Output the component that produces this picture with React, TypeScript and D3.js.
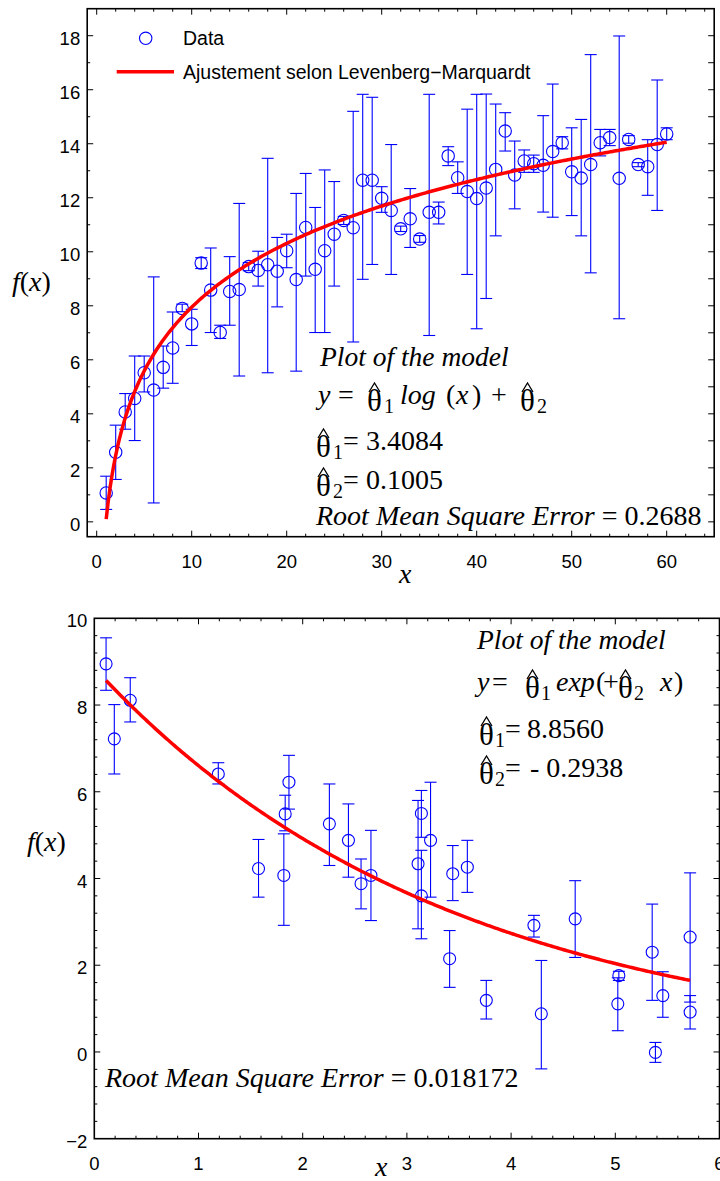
import React from 'react';
import * as d3 from 'd3';

// ---------- Top chart data (logarithmic model) ----------
const topX = [1, 2, 3, 4, 5, 6, 7, 8, 9, 10, 11, 12, 13, 14, 15, 16, 17, 18, 19, 20,
  21, 22, 23, 24, 25, 26, 27, 28, 29, 30, 31, 32, 33, 34, 35, 36, 37, 38, 39, 40,
  41, 42, 43, 44, 45, 46, 47, 48, 49, 50, 51, 52, 53, 54, 55, 56, 57, 58, 59, 60];
const topY = [1.07, 2.58, 4.07, 4.57, 5.52, 4.88, 5.72, 6.44, 7.90, 7.33,
  9.58, 8.58, 7.01, 8.53, 8.60, 9.45, 9.31, 9.52, 9.28, 10.04,
  8.97, 10.90, 9.35, 10.04, 10.65, 11.16, 10.89, 12.65, 12.65, 11.98,
  11.53, 10.85, 11.22, 10.47, 11.46, 11.46, 13.55, 12.74, 12.23, 11.97,
  12.36, 13.05, 14.47, 12.84, 13.36, 13.26, 13.20, 13.71, 14.04, 12.96,
  12.73, 13.23, 14.04, 14.23, 12.72, 14.16, 13.23, 13.15, 13.97, 14.36];
const topLow = [0.46, 1.57, 3.43, 3.01, 4.81, 0.70, 4.95, 5.13, 7.78, 6.53,
  9.38, 7.01, 6.79, 7.28, 5.40, 9.30, 8.73, 5.52, 7.96, 9.41,
  5.58, 9.10, 7.01, 7.01, 8.73, 11.01, 6.66, 8.98, 9.53, 11.46,
  9.16, 10.75, 10.16, 10.35, 6.90, 11.03, 13.19, 12.16, 9.16, 7.15,
  8.27, 10.59, 13.73, 11.59, 12.94, 12.94, 11.47, 11.28, 13.81, 11.34,
  10.59, 9.22, 13.55, 13.93, 7.52, 14.02, 13.15, 12.09, 11.53, 14.15];
const topHigh = [1.69, 3.58, 4.75, 6.14, 6.14, 9.07, 6.51, 7.77, 8.06, 7.87,
  9.78, 10.14, 7.28, 9.82, 11.79, 9.60, 10.02, 13.46, 10.53, 10.65,
  12.16, 12.90, 11.64, 13.03, 12.60, 11.31, 15.20, 15.83, 15.72, 12.41,
  13.97, 10.95, 12.34, 10.60, 15.83, 11.84, 13.89, 13.33, 15.28, 15.83,
  15.84, 15.47, 15.15, 14.10, 13.77, 13.58, 15.04, 16.21, 14.26, 14.59,
  14.90, 17.30, 14.53, 14.53, 17.99, 14.30, 13.30, 14.15, 16.36, 14.59];
const topTheta = [3.4084, 0.1005];
const topRmse = '0.2688';
const topXTicks = [0, 10, 20, 30, 40, 50, 60];
const topYTicks = [0, 2, 4, 6, 8, 10, 12, 14, 16, 18];

// ---------- Bottom chart data (exponential model) ----------
const botX = [0.113, 0.192, 0.345, 1.19, 1.576, 1.819, 1.832, 1.868, 2.256, 2.439,
  2.56, 2.655, 3.107, 3.139, 3.139, 3.227, 3.41, 3.44, 3.58, 3.762,
  4.219, 4.29, 4.615, 5.024, 5.034, 5.354, 5.385, 5.456, 5.718, 5.718];
const botY = [8.95, 7.22, 8.11, 6.41, 4.23, 4.07, 5.49, 6.22, 5.26, 4.88,
  3.88, 4.07, 4.34, 5.50, 3.60, 4.88, 2.15, 4.11, 4.26, 1.19,
  2.92, 0.88, 3.07, 1.11, 1.76, 2.30, -0.01, 1.30, 2.65, 0.92];
const botLow = [8.34, 6.41, 7.61, 6.18, 3.57, 2.92, 5.10, 5.60, 4.30, 4.03,
  3.30, 3.03, 2.84, 4.95, 2.61, 3.57, 1.49, 3.49, 3.68, 0.76,
  2.65, -0.39, 2.18, 0.49, 1.65, 1.19, -0.24, 0.80, 1.15, 0.53];
const botHigh = [9.55, 8.01, 8.63, 6.67, 4.90, 5.03, 5.92, 6.84, 6.18, 5.72,
  4.45, 5.11, 5.80, 6.03, 4.65, 6.22, 2.80, 4.76, 4.88, 1.65,
  3.15, 2.11, 3.95, 1.71, 1.86, 3.41, 0.22, 1.85, 4.13, 1.30];
const botTheta = [8.8560, -0.2938];
const botRmse = '0.018172';
const botXTicks = [0, 1, 2, 3, 4, 5, 6];
const botYTicks = [-2, 0, 2, 4, 6, 8, 10];

const legendLabels = ['Data', 'Ajustement selon Levenberg\u2212Marquardt'];

const SERIF = "'Liberation Serif', 'Times New Roman', serif";
const SANS = "'Liberation Sans', Arial, Helvetica, sans-serif";
const BLUE = '#0000ff';
const RED = '#ff0000';
const FS = 28;
const THFS = 31;
const SUBFS = 20;

const steps = (a: number, b: number, s: number) =>
  d3.range(Math.ceil(a / s - 1e-9), Math.floor(b / s + 1e-9) + 1).map((i) => +(i * s).toFixed(6));

type TickSpec = { major: number[]; minor: number[] };

function Frame({ xs, ys, bottom, top, left, right, majorLen = 6, minorLen = 3 }: any) {
  const [x0, x1] = xs.range();
  const [y0, y1] = ys.range();
  const lines: any[] = [];
  const inX = (v: number) => xs(v) > x0 + 0.5 && xs(v) < x1 - 0.5;
  const inY = (v: number) => ys(v) < y0 - 0.5 && ys(v) > y1 + 0.5;
  const addX = (spec: TickSpec, yy: number, dir: number, key: string) => {
    spec.major.filter(inX).forEach((v) => lines.push(<line key={key + 'M' + v} x1={xs(v)} x2={xs(v)} y1={yy} y2={yy + dir * majorLen} />));
    spec.minor.filter(inX).filter((v) => !spec.major.includes(v)).forEach((v) =>
      lines.push(<line key={key + 'm' + v} x1={xs(v)} x2={xs(v)} y1={yy} y2={yy + dir * minorLen} />));
  };
  const addY = (spec: TickSpec, xx: number, dir: number, key: string) => {
    spec.major.filter(inY).forEach((v) => lines.push(<line key={key + 'M' + v} x1={xx} x2={xx + dir * majorLen} y1={ys(v)} y2={ys(v)} />));
    spec.minor.filter(inY).filter((v) => !spec.major.includes(v)).forEach((v) =>
      lines.push(<line key={key + 'm' + v} x1={xx} x2={xx + dir * minorLen} y1={ys(v)} y2={ys(v)} />));
  };
  addX(bottom, y0, -1, 'b');
  addX(top, y1, 1, 't');
  addY(left, x0, 1, 'l');
  addY(right, x1, -1, 'r');
  return (
    <g>
      <g stroke="#000" strokeWidth={1}>{lines}</g>
      <rect x={x0} y={y1} width={x1 - x0} height={y0 - y1} fill="none" stroke="#000" strokeWidth={1.6} />
    </g>
  );
}

function TickLabels({ xs, ys, xTicks, yTicks }: any) {
  const [x0] = xs.range();
  const [y0] = ys.range();
  const fmt = (v: number) => (v < 0 ? '\u2212' + Math.abs(v) : String(v));
  return (
    <g fontFamily={SANS} fontSize={18.5} fill="#000">
      {xTicks.map((v: number) => (
        <text key={'x' + v} x={xs(v)} y={y0 + 31} textAnchor="middle">{fmt(v)}</text>
      ))}
      {yTicks.map((v: number) => (
        <text key={'y' + v} x={x0 - 7} y={ys(v) + 9} textAnchor="end">{fmt(v)}</text>
      ))}
    </g>
  );
}

function Points({ xs, ys, X, Y, L, H, r = 6.2, cap = 6 }: any) {
  return (
    <g fill="none" stroke={BLUE} strokeWidth={1.1}>
      {X.map((x: number, i: number) => {
        const px = xs(x);
        return (
          <g key={i}>
            <line x1={px} x2={px} y1={ys(L[i])} y2={ys(H[i])} />
            <line x1={px - cap} x2={px + cap} y1={ys(L[i])} y2={ys(L[i])} />
            <line x1={px - cap} x2={px + cap} y1={ys(H[i])} y2={ys(H[i])} />
            <circle cx={px} cy={ys(Y[i])} r={r} />
          </g>
        );
      })}
    </g>
  );
}

const fmtTheta = (v: number) => (v < 0 ? '- ' : '') + Math.abs(v).toFixed(4);

type Piece = { t?: string; x: number; it?: boolean; theta?: string; subX?: number };
function Eq({ base, pieces }: { base: number; pieces: Piece[] }) {
  return (
    <g fontFamily={SERIF} fill="#000">
      {pieces.map((p, i) => {
        if (p.theta) {
          const x = p.x;
          return (
            <g key={i}>
              <text x={x} y={base + 7} fontSize={THFS}>{'\u03b8'}</text>
              <path d={`M${x + 2},${base - 12} L${x + 7.5},${base - 21} L${x + 13},${base - 12}`}
                fill="none" stroke="#000" strokeWidth={1.3} />
              <text x={p.subX} y={base + 9} fontSize={SUBFS}>{p.theta}</text>
            </g>
          );
        }
        return (
          <text key={i} x={p.x} y={base} fontSize={FS} fontStyle={p.it ? 'italic' : 'normal'}>{p.t}</text>
        );
      })}
    </g>
  );
}

export default function App() {
  const xs = d3.scaleLinear().domain([-1, 65]).range([87.2, 714.2]);
  const ys = d3.scaleLinear().domain([-0.55, 19]).range([536.7, 8.7]);
  const xb = d3.scaleLinear().domain([0, 6]).range([94.3, 719.5]);
  const yb = d3.scaleLinear().domain([-2, 10]).range([1138.7, 618.3]);

  const tx0 = d3.min(topX)!, tx1 = d3.max(topX)!;
  const topFitX = d3.range(0, 301).map((i) => tx0 + (i / 300) * (tx1 - tx0));
  const topLine = d3.line<number>().x((x) => xs(x)).y((x) => ys(topTheta[0] * Math.log(x) + topTheta[1]));
  const bx0 = d3.min(botX)!, bx1 = d3.max(botX)!;
  const botFitX = d3.range(0, 301).map((i) => bx0 + (i / 300) * (bx1 - bx0));
  const botLine = d3.line<number>().x((x) => xb(x)).y((x) => yb(botTheta[0] * Math.exp(botTheta[1] * x)));

  return (
    <svg width={720} height={1181} style={{ position: 'absolute', left: 0, top: 0, background: '#fff' }}>
      <rect x={0} y={0} width={720} height={1181} fill="#fff" />

      {/* ================= TOP CHART ================= */}
      <Frame xs={xs} ys={ys}
        bottom={{ major: topXTicks, minor: steps(-1, 65, 2) }}
        top={{ major: topXTicks, minor: steps(-1, 65, 2) }}
        left={{ major: topYTicks, minor: steps(-0.55, 19, 1) }}
        right={{ major: steps(-0.55, 19, 1), minor: [] }} />
      <TickLabels xs={xs} ys={ys} xTicks={topXTicks} yTicks={topYTicks} />
      <Points xs={xs} ys={ys} X={topX} Y={topY} L={topLow} H={topHigh} />
      <path d={topLine(topFitX)!} fill="none" stroke={RED} strokeWidth={3.5} />

      {/* legend */}
      <circle cx={145.7} cy={38.3} r={6.2} fill="none" stroke={BLUE} strokeWidth={1.1} />
      <line x1={116.7} x2={174} y1={71.7} y2={71.7} stroke={RED} strokeWidth={3.5} />
      <g fontFamily={SANS} fontSize={19.5} fill="#000">
        <text x={183} y={45}>{legendLabels[0]}</text>
        <text x={183} y={79}>{legendLabels[1]}</text>
      </g>

      {/* annotations */}
      <g fontFamily={SERIF} fill="#000">
        <text x={320} y={366} fontSize={27.5} fontStyle="italic">Plot of the model</text>
        <text x={316} y={525} fontSize={FS}>
          <tspan fontStyle="italic">Root Mean Square Error</tspan><tspan> = {topRmse}</tspan>
        </text>
        <text x={12} y={291} fontSize={FS}><tspan fontStyle="italic">f</tspan><tspan>(</tspan><tspan fontStyle="italic">x</tspan><tspan>)</tspan></text>
        <text x={399} y={583} fontSize={FS} fontStyle="italic">x</text>
      </g>
      <Eq base={404} pieces={[
        { t: 'y', x: 318, it: true }, { t: '=', x: 338 },
        { theta: '1', x: 367, subX: 384 },
        { t: 'log', x: 400, it: true },
        { t: '(', x: 446 }, { t: 'x', x: 456, it: true }, { t: ')', x: 472 },
        { t: '+', x: 491 },
        { theta: '2', x: 520, subX: 537 },
      ]} />
      <Eq base={450} pieces={[
        { theta: '1', x: 316, subX: 333 }, { t: '=', x: 343 }, { t: fmtTheta(topTheta[0]), x: 366 },
      ]} />
      <Eq base={489} pieces={[
        { theta: '2', x: 316, subX: 333 }, { t: '=', x: 343 }, { t: fmtTheta(topTheta[1]), x: 366 },
      ]} />

      {/* ================= BOTTOM CHART ================= */}
      <Frame xs={xb} ys={yb}
        bottom={{ major: botXTicks, minor: steps(0, 6, 0.2) }}
        top={{ major: botXTicks, minor: steps(0, 6, 0.2) }}
        left={{ major: botYTicks, minor: steps(-2, 10, 0.4) }}
        right={{ major: botYTicks, minor: steps(-2, 10, 0.4) }} />
      <TickLabels xs={xb} ys={yb} xTicks={botXTicks} yTicks={botYTicks} />
      <Points xs={xb} ys={yb} X={botX} Y={botY} L={botLow} H={botHigh} r={6} />
      <path d={botLine(botFitX)!} fill="none" stroke={RED} strokeWidth={3.5} />

      <g fontFamily={SERIF} fill="#000">
        <text x={477} y={649} fontSize={27.5} fontStyle="italic">Plot of the model</text>
        <text x={105} y={1087} fontSize={FS}>
          <tspan fontStyle="italic">Root Mean Square Error</tspan><tspan> = {botRmse}</tspan>
        </text>
        <text x={27} y={851} fontSize={FS}><tspan fontStyle="italic">f</tspan><tspan>(</tspan><tspan fontStyle="italic">x</tspan><tspan>)</tspan></text>
        <text x={375} y={1176} fontSize={FS} fontStyle="italic">x</text>
      </g>
      <Eq base={691} pieces={[
        { t: 'y', x: 477, it: true }, { t: '=', x: 492 },
        { theta: '1', x: 525, subX: 541 },
        { t: 'exp', x: 556, it: true },
        { t: '(', x: 596 }, { t: '+', x: 603 },
        { theta: '2', x: 618, subX: 634 },
        { t: 'x', x: 660, it: true }, { t: ')', x: 674 },
      ]} />
      <Eq base={738} pieces={[
        { theta: '1', x: 479, subX: 495 }, { t: '=', x: 505 }, { t: fmtTheta(botTheta[0]), x: 527 },
      ]} />
      <Eq base={777} pieces={[
        { theta: '2', x: 479, subX: 495 }, { t: '=', x: 505 }, { t: fmtTheta(botTheta[1]), x: 530 },
      ]} />
    </svg>
  );
}
